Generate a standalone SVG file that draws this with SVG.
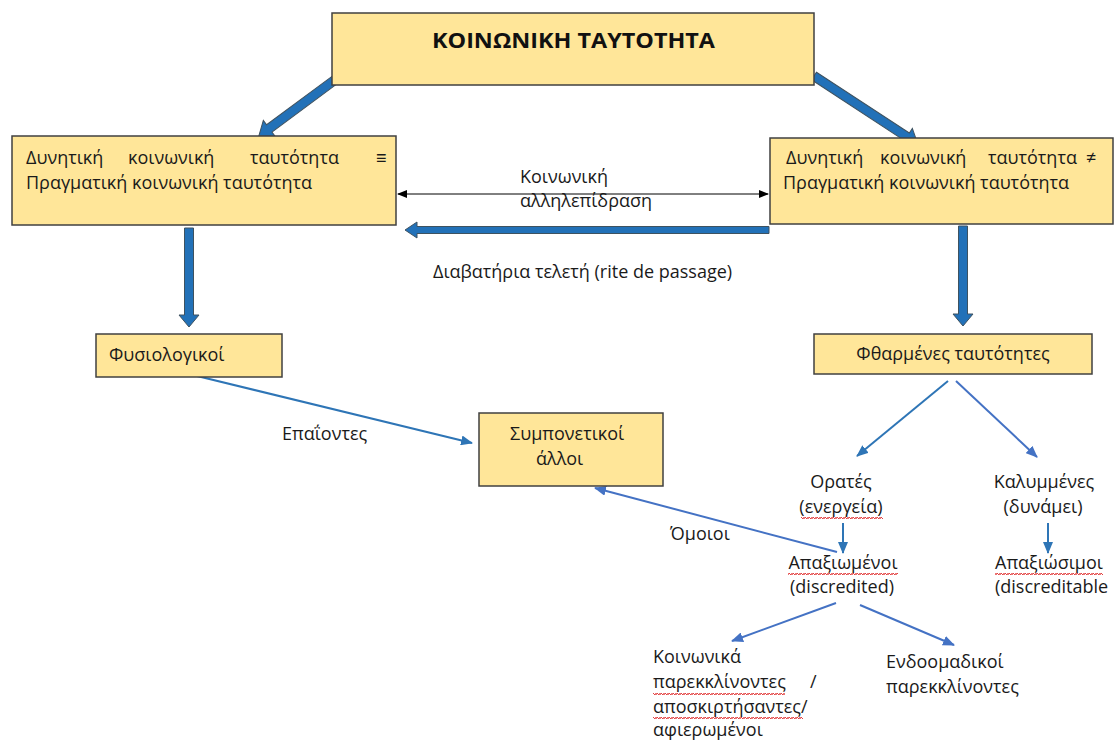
<svg xmlns="http://www.w3.org/2000/svg" width="1116" height="740" viewBox="0 0 1116 740">
<style>
.box{fill:#FFE699;stroke:#404040;stroke-width:1.5}
.t{font-family:"Open Sans","Noto Sans","Liberation Sans",sans-serif;font-size:18px;fill:#1a1a1a}
.title{font-family:"Open Sans","Noto Sans","Liberation Sans",sans-serif;font-size:22px;font-weight:bold;fill:#111}
.thick{fill:#2271B8;stroke:#3E5260;stroke-width:1}
.a1{stroke:#2E75B6;stroke-width:2;fill:none;marker-end:url(#h1)}
.a2{stroke:#4472C4;stroke-width:2;fill:none;marker-end:url(#h2)}
.bk{stroke:#000;stroke-width:1;fill:none;marker-start:url(#hb);marker-end:url(#hb)}
.sq{fill:url(#squig)}
</style>
<defs>
<marker id="h1" markerUnits="userSpaceOnUse" markerWidth="12" markerHeight="10" refX="11" refY="5" orient="auto"><path d="M0,0 L12,5 L0,10 Z" fill="#2E75B6"/></marker>
<marker id="h2" markerUnits="userSpaceOnUse" markerWidth="12" markerHeight="10" refX="11" refY="5" orient="auto"><path d="M0,0 L12,5 L0,10 Z" fill="#4472C4"/></marker>
<marker id="hb" markerUnits="userSpaceOnUse" markerWidth="10" markerHeight="8" refX="9" refY="4" orient="auto-start-reverse"><path d="M0,0 L10,4 L0,8 Z" fill="#000"/></marker>
<pattern id="squig" patternUnits="userSpaceOnUse" width="4" height="4"><path d="M0,3 L1,1 L3,3 L4,1" stroke="#E03030" stroke-width="0.9" fill="none"/></pattern>
</defs>

<g id="connectors">
<polygon class="thick" points="0,-4.5 83,-4.5 83,-10 96,0 83,10 83,4.5 0,4.5" transform="translate(336,79) rotate(143.5)"/>
<polygon class="thick" points="0,-4.5 111,-4.5 111,-10 124,0 111,10 111,4.5 0,4.5" transform="translate(814,76) rotate(33.2)"/>
<polygon class="thick" points="0,-4.5 87,-4.5 87,-10 99,0 87,10 87,4.5 0,4.5" transform="translate(189,228) rotate(90)"/>
<polygon class="thick" points="0,-4.5 88,-4.5 88,-10 100,0 88,10 88,4.5 0,4.5" transform="translate(963,226) rotate(90)"/>
<polygon class="thick" points="0,-3.5 352,-3.5 352,-8 364,0 352,8 352,3.5 0,3.5" transform="translate(769,230) rotate(180)"/>
<line class="bk" x1="398" y1="194" x2="768" y2="194"/>
<line class="a1" x1="197" y1="376" x2="472" y2="443"/>
<line class="a1" x1="948" y1="381" x2="857" y2="456"/>
<line class="a2" x1="956" y1="381" x2="1037" y2="457"/>
<line class="a1" x1="843" y1="523" x2="843" y2="553"/>
<line class="a1" x1="1048" y1="523" x2="1048" y2="553"/>
<line class="a2" x1="837" y1="552" x2="595" y2="488"/>
<line class="a2" x1="836" y1="603" x2="732" y2="641"/>
<line class="a2" x1="860" y1="605" x2="954" y2="645"/>
</g>

<g id="node-top">
<rect class="box" x="332" y="13" width="482" height="72"/>
<text class="title" x="432" y="48" textLength="283" lengthAdjust="spacingAndGlyphs">ΚΟΙΝΩΝΙΚΗ ΤΑΥΤΟΤΗΤΑ</text>
</g>

<g id="node-left">
<rect class="box" x="12" y="136" width="384" height="89"/>
<text class="t" y="164"><tspan x="26">Δυνητική</tspan><tspan x="128">κοινωνική</tspan><tspan x="250">ταυτότητα</tspan><tspan x="376">≡</tspan></text>
<text class="t" x="26" y="189">Πραγματική κοινωνική ταυτότητα</text>
</g>

<g id="node-right">
<rect class="box" x="770" y="138" width="343" height="86"/>
<text class="t" y="164"><tspan x="786">Δυνητική</tspan><tspan x="880">κοινωνική</tspan><tspan x="988">ταυτότητα</tspan><tspan x="1086">≠</tspan></text>
<text class="t" x="783" y="189">Πραγματική κοινωνική ταυτότητα</text>
</g>

<g id="label-interaction">
<text class="t" x="520" y="183">Κοινωνική</text>
<text class="t" x="520" y="207">αλληλεπίδραση</text>
</g>
<g id="label-rite">
<text class="t" x="433" y="278">Διαβατήρια τελετή (rite de passage)</text>
</g>

<g id="node-normal">
<rect class="box" x="96" y="334" width="186" height="43"/>
<text class="t" x="109" y="361">Φυσιολογικοί</text>
</g>

<g id="node-spoiled">
<rect class="box" x="814" y="334" width="278" height="40"/>
<text class="t" x="953" y="360" text-anchor="middle">Φθαρμένες ταυτότητες</text>
</g>

<g id="node-sympathetic">
<rect class="box" x="479" y="413" width="184" height="73"/>
<text class="t" x="510" y="440">Συμπονετικοί</text>
<text class="t" x="536" y="465">άλλοι</text>
</g>

<g id="label-wise"><text class="t" x="282" y="440">Επαΐοντες</text></g>
<g id="label-own"><text class="t" x="670" y="540">Όμοιοι</text></g>

<g id="node-visible">
<text class="t" x="841" y="488" text-anchor="middle">Ορατές</text>
<text class="t" x="841" y="513" text-anchor="middle">(ενεργεία)</text>
<rect class="sq" x="801" y="516" width="82" height="4"/>
</g>

<g id="node-hidden">
<text class="t" x="1044" y="488" text-anchor="middle">Καλυμμένες</text>
<text class="t" x="1043" y="513" text-anchor="middle">(δυνάμει)</text>
</g>

<g id="node-discredited">
<text class="t" x="843" y="569" text-anchor="middle">Απαξιωμένοι</text>
<rect class="sq" x="788" y="572" width="110" height="4"/>
<text class="t" x="842" y="593" text-anchor="middle">(discredited)</text>
</g>

<g id="node-discreditable">
<text class="t" x="995" y="569">Απαξιώσιμοι</text>
<rect class="sq" x="995" y="572" width="108" height="4"/>
<text class="t" x="995" y="593">(discreditable</text>
</g>

<g id="node-deviants">
<text class="t" x="653" y="663">Κοινωνικά</text>
<text class="t" y="688"><tspan x="653">παρεκκλίνοντες</tspan><tspan x="810">/</tspan></text>
<rect class="sq" x="653" y="691" width="132" height="4"/>
<text class="t" x="653" y="713">αποσκιρτήσαντες/</text>
<rect class="sq" x="653" y="716" width="150" height="4"/>
<text class="t" x="653" y="736">αφιερωμένοι</text>
</g>

<g id="node-ingroup">
<text class="t" x="886" y="668">Ενδοομαδικοί</text>
<text class="t" x="886" y="693">παρεκκλίνοντες</text>
</g>
</svg>
